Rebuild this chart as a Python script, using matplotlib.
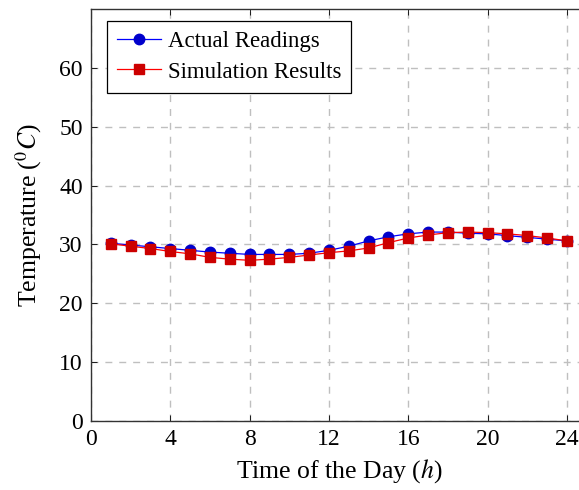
import matplotlib
matplotlib.use("Agg")
import matplotlib.pyplot as plt

hours = list(range(1, 25))
actual = [30.2, 29.9, 29.6, 29.3, 29.0, 28.7, 28.5, 28.3, 28.3, 28.3, 28.5, 29.0,
          29.7, 30.6, 31.3, 31.8, 32.1, 32.1, 31.9, 31.8, 31.5, 31.2, 30.9, 30.6]
simulated = [30.1, 29.7, 29.3, 28.8, 28.4, 27.8, 27.5, 27.3, 27.5, 27.8, 28.2, 28.6,
             28.9, 29.4, 30.3, 31.1, 31.6, 32.0, 32.1, 32.0, 31.8, 31.5, 31.1, 30.6]
xticks = [0, 4, 8, 12, 16, 20, 24]
yticks = [0, 10, 20, 30, 40, 50, 60]

plt.rcParams['font.family'] = ['Liberation Serif', 'DejaVu Serif']
plt.rcParams['mathtext.fontset'] = 'stix'

fig = plt.figure(figsize=(5.79, 4.90), dpi=100)
W, H = 579, 490
x0, y0 = 91, 421
xscale = 19.83
ytop = 9
ax = fig.add_axes([x0 / W, (H - y0) / H, (25 * xscale) / W, (y0 - ytop) / H])

ax.plot(hours, actual, color='#0000ff', lw=0.9, marker='o', ms=7.5,
        mfc=(0, 0, 0.8), mec=(0, 0, 0.8), label='Actual Readings', zorder=3)
ax.plot(hours, simulated, color='#ff0000', lw=0.9, marker='s', ms=7.5,
        mfc=(0.8, 0, 0), mec=(0.8, 0, 0), label='Simulation Results', zorder=4)

ax.set_xlim(0, 25)
ax.set_ylim(0, 70)
ax.set_xticks(xticks)
ax.set_yticks(yticks)
ax.tick_params(direction='in', length=4, width=0.6, labelsize=17, top=True, right=True, pad=6)
ax.grid(True, color='#bfbfbf', linestyle=(0, (5, 5)), lw=1.0)
ax.set_axisbelow(True)
for s in ax.spines.values():
    s.set_linewidth(1.0)
    s.set_color('#333333')

ax.set_xlabel(r'Time of the Day ($h$)', fontsize=18.5, labelpad=5)
ax.set_ylabel(r'Temperature ($^{0}C$)', fontsize=18.5, labelpad=11)

leg = ax.legend(loc='upper left', bbox_to_anchor=(0.032, 0.971), borderaxespad=0,
                fontsize=16.5, fancybox=False, framealpha=1, edgecolor='black',
                borderpad=0.45, handlelength=1.9, handletextpad=0.3, labelspacing=0.4)
leg.get_frame().set_linewidth(0.9)

fig.savefig('out.png', dpi=100)
